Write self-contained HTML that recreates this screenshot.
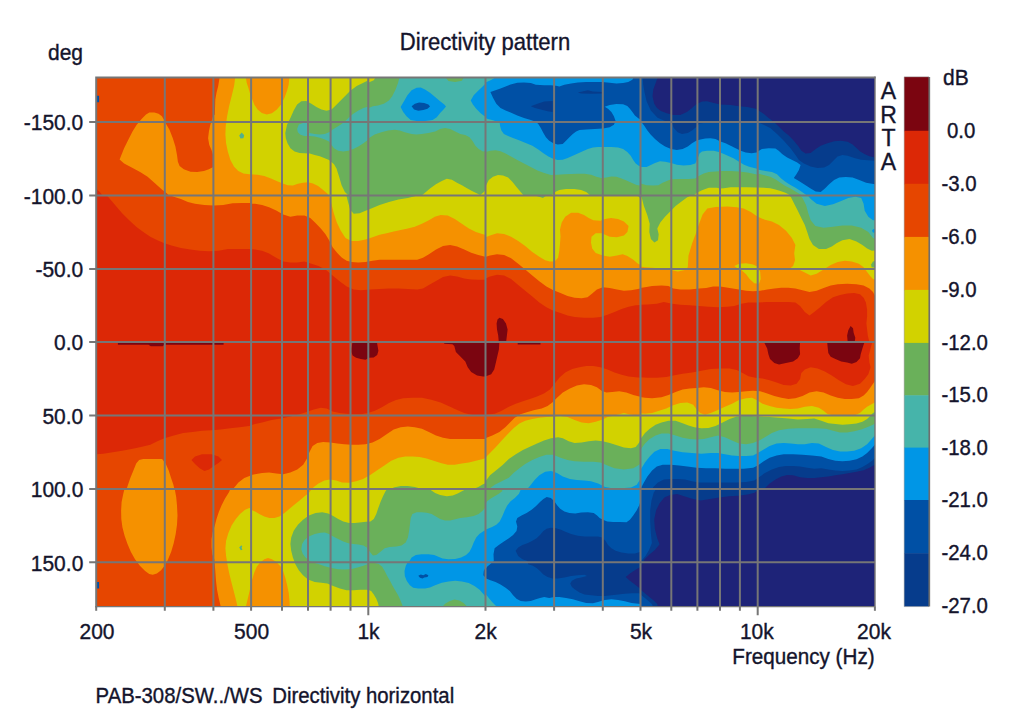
<!DOCTYPE html>
<html><head><meta charset="utf-8"><title>Directivity pattern</title>
<style>
html,body{margin:0;padding:0;background:#fff;}
body{width:1024px;height:715px;position:relative;overflow:hidden;font-family:"Liberation Sans",sans-serif;color:#1a1a28;}
.t{position:absolute;white-space:nowrap;line-height:1;letter-spacing:0;}
</style></head><body>
<svg width="1024" height="715" viewBox="0 0 1024 715" style="position:absolute;left:0;top:0">
<defs><clipPath id="c0"><rect x="95.6" y="77.1" width="155.8" height="118.6"/></clipPath><clipPath id="c1"><rect x="250.6" y="77.1" width="118.0" height="118.6"/></clipPath><clipPath id="c2"><rect x="367.8" y="77.1" width="118.1" height="118.6"/></clipPath><clipPath id="c3"><rect x="485.1" y="77.1" width="155.8" height="118.6"/></clipPath><clipPath id="c4"><rect x="640.1" y="77.1" width="118.0" height="118.6"/></clipPath><clipPath id="c5"><rect x="757.3" y="77.1" width="118.1" height="118.6"/></clipPath><clipPath id="c6"><rect x="95.6" y="194.9" width="155.8" height="147.5"/></clipPath><clipPath id="c7"><rect x="250.6" y="194.9" width="235.3" height="147.5"/></clipPath><clipPath id="c8"><rect x="485.1" y="194.9" width="155.8" height="147.5"/></clipPath><clipPath id="c9"><rect x="640.1" y="194.9" width="235.3" height="147.5"/></clipPath><clipPath id="c10"><rect x="95.6" y="341.6" width="155.8" height="147.5"/></clipPath><clipPath id="c11"><rect x="250.6" y="341.6" width="235.3" height="147.5"/></clipPath><clipPath id="c12"><rect x="485.1" y="341.6" width="155.8" height="147.5"/></clipPath><clipPath id="c13"><rect x="640.1" y="341.6" width="235.3" height="147.5"/></clipPath><clipPath id="c14"><rect x="95.6" y="488.3" width="155.8" height="118.6"/></clipPath><clipPath id="c15"><rect x="250.6" y="488.3" width="118.0" height="118.6"/></clipPath><clipPath id="c16"><rect x="367.8" y="488.3" width="118.1" height="118.6"/></clipPath><clipPath id="c17"><rect x="485.1" y="488.3" width="155.8" height="118.6"/></clipPath><clipPath id="c18"><rect x="640.1" y="488.3" width="118.0" height="118.6"/></clipPath><clipPath id="c19"><rect x="757.3" y="488.3" width="118.1" height="118.6"/></clipPath></defs>
<defs><clipPath id="pc"><rect x="96.2" y="77.4" width="778.6999999999999" height="529.2"/></clipPath></defs>
<g clip-path="url(#pc)">
<rect x="96.2" y="77.4" width="778.6999999999999" height="529.2" fill="#dc2806"/>
<g clip-path="url(#c0)">
<rect x="95.0" y="76.5" width="157.0" height="119.8" fill="#e64600"/>
<path d="M220.4,72.6 218.2,86.1 216.5,92.8 215.3,99.5 214.8,114.6 213.1,116.3 212.0,120.0 210.3,124.7 208.9,131.4 208.1,138.2 209.3,144.9 211.5,149.9 213.1,155.0 213.7,166.7 208.9,169.2 203.9,170.9 197.2,172.1 190.5,171.8 183.8,169.2 179.6,165.9 177.9,161.7 177.0,155.0 175.4,146.6 172.8,138.2 169.5,129.8 166.1,123.9 164.4,120.5 161.9,116.3 158.6,113.8 154.4,112.5 149.3,112.6 146.0,114.6 141.8,118.8 136.7,124.7 132.5,131.4 128.3,139.8 124.1,148.2 120.8,156.6 119.6,159.5 124.1,163.4 131.7,167.6 140.1,172.1 147.6,176.8 155.2,183.5 161.9,189.4 167.0,193.6 170.3,196.9 172.0,203.7 272.8,203.7 272.8,72.6Z" fill="#f59100"/>
<path d="M235.8,72.6 234.1,86.1 231.6,96.2 229.1,106.2 227.1,116.3 225.7,126.4 225.4,134.8 226.1,143.2 227.8,151.6 230.4,160.0 234.1,166.7 238.3,170.9 243.4,173.4 249.3,174.3 262.7,175.4 262.7,113.8 256.0,108.8 253.5,104.6 251.3,97.8 248.9,89.4 246.7,82.7 245.1,72.6Z" fill="#d2d200"/>
<path d="M241.7,132.4 244.2,135.3 243.4,138.2 240.5,138.5 239.2,135.6Z" fill="#52b08e"/>
<path d="M96.1,95.8 99.1,95.8 99.1,102.2 96.1,102.2Z" fill="#0050a5"/>
<path d="M94.7,187.2 99.8,191.9 103.5,196.9 94.7,196.9Z" fill="#dc2806"/>
</g>
<g clip-path="url(#c1)">
<rect x="250.0" y="76.5" width="119.2" height="119.8" fill="#d2d200"/>
<path d="M244.2,72.6 247.5,82.7 249.2,89.4 251.7,97.8 254.2,104.6 257.6,109.6 261.8,113.0 266.8,114.6 271.9,113.3 276.9,109.6 281.1,104.6 284.5,97.8 287.0,91.1 288.7,84.4 289.8,72.6Z" fill="#f59100"/>
<path d="M240.8,173.1 251.0,174.3 257.6,174.8 264.3,175.9 271.0,178.5 277.8,181.5 282.8,183.5 287.8,185.2 292.9,185.5 297.9,183.8 303.0,182.7 308.0,182.2 313.0,183.5 318.1,186.0 323.1,189.9 327.3,193.6 329.0,196.1 331.5,203.7 240.8,203.7Z" fill="#f59100"/>
<path d="M285.3,133.1 287.0,124.7 290.4,118.0 293.7,110.4 297.1,104.6 301.3,101.2 306.3,100.9 311.4,103.7 316.4,107.1 321.4,109.6 326.5,110.8 331.5,109.6 335.7,105.4 339.9,101.2 344.9,96.2 350.0,91.1 356.7,86.1 363.4,82.7 368.5,80.2 373.5,78.0 376.0,72.6 408.8,72.6 408.8,203.7 351.7,203.7 349.1,196.1 344.9,191.9 341.6,185.2 339.1,176.8 336.5,168.4 334.0,164.2 331.5,162.0 329.0,160.0 324.8,158.3 319.8,156.3 314.7,155.0 309.7,153.6 304.6,153.3 299.6,152.9 294.6,151.6 290.4,148.2 287.5,143.2 285.8,138.2Z" fill="#6ab05a"/>
<path d="M297.1,128.9 298.8,124.4 303.0,123.0 308.0,123.0 308.8,126.4 309.3,133.1 314.7,134.0 319.8,134.5 324.8,134.0 329.0,132.3 332.3,129.8 336.5,127.2 341.6,123.9 345.8,120.5 349.1,117.2 353.3,113.8 358.4,110.4 363.4,107.9 368.5,106.6 375.2,105.9 381.9,104.2 386.9,101.2 392.0,96.2 396.0,92.0 408.8,86.1 408.8,126.4 396.0,129.4 390.3,130.6 383.6,132.3 376.9,134.8 371.8,137.3 368.5,139.5 363.4,143.2 358.4,146.6 353.3,149.1 348.3,150.8 343.3,151.6 338.2,150.8 334.0,148.2 331.5,144.9 329.0,141.5 324.8,139.5 319.8,137.8 314.7,136.5 309.7,136.1 304.6,136.1 300.4,134.8 297.9,132.3Z" fill="#46b4aa"/>
<path d="M242.1,131.4 245.5,135.1 244.3,139.0 240.5,139.5 238.8,135.6Z" fill="#52b08e"/>
</g>
<g clip-path="url(#c2)">
<rect x="367.2" y="76.5" width="119.3" height="119.8" fill="#6ab05a"/>
<path d="M357.8,76.0 376.3,76.0 373.8,80.2 368.7,82.4 361.2,84.4 357.8,86.1Z" fill="#d2d200"/>
<path d="M400.6,72.6 398.1,82.7 395.6,89.4 392.2,96.2 388.9,100.4 383.8,103.7 378.0,105.4 372.9,106.2 368.7,107.9 364.5,110.4 357.8,114.6 351.1,118.8 332.6,124.7 332.6,155.0 341.0,151.6 351.1,147.4 357.8,144.0 364.5,140.7 368.7,138.2 374.6,134.5 381.3,132.3 388.0,130.6 394.8,129.8 399.8,130.6 404.8,132.3 411.6,134.0 416.6,134.5 421.6,134.0 428.4,133.1 435.1,131.4 440.1,128.9 445.1,128.1 450.2,128.9 455.2,131.4 460.3,134.0 465.3,135.1 469.5,137.3 472.9,141.5 475.4,145.7 478.7,149.1 482.9,151.6 487.1,150.8 492.2,149.9 497.2,150.8 502.3,152.4 507.3,155.0 513.0,158.3 525.8,160.0 525.8,72.6Z" fill="#46b4aa"/>
<path d="M444.3,76.0 464.5,76.0 461.9,80.7 455.2,82.0 448.5,81.0Z" fill="#6ab05a"/>
<path d="M400.6,107.1 404.0,101.2 407.4,95.3 411.6,90.3 416.6,87.8 420.8,87.4 425.0,89.4 430.0,92.8 435.1,97.0 440.1,101.2 444.3,104.6 446.0,106.6 443.5,109.6 440.1,113.0 436.8,117.2 432.6,120.0 425.0,121.0 416.6,121.0 410.7,120.0 406.5,116.3 403.2,112.1Z" fill="#0096e6"/>
<path d="M411.6,106.2 414.9,103.7 419.1,102.5 424.2,102.9 428.4,104.6 430.0,106.6 427.5,108.8 423.3,110.1 418.3,110.8 414.1,109.6Z" fill="#0050a5"/>
<path d="M492.2,72.6 489.7,80.2 485.5,83.6 482.1,86.9 477.9,91.1 473.7,95.3 470.7,100.4 472.9,104.6 476.2,108.8 480.4,113.0 484.6,116.3 488.8,118.3 493.9,120.0 498.9,121.4 499.7,123.9 500.6,128.9 503.1,134.0 507.3,137.3 513.0,139.8 525.8,141.5 525.8,72.6Z" fill="#0096e6"/>
<path d="M420.0,198.6 421.6,195.6 425.0,192.7 430.0,188.5 435.9,184.3 441.8,181.0 446.8,178.8 451.9,179.8 456.9,182.7 461.9,185.2 467.0,188.2 472.0,191.1 477.1,193.6 480.1,194.9 482.1,193.6 483.8,191.9 485.5,189.4 487.1,198.6Z" fill="#d2d200"/>
</g>
<g clip-path="url(#c3)">
<rect x="484.5" y="76.5" width="157.0" height="119.8" fill="#0096e6"/>
<path d="M483.7,72.6 495.5,72.6 493.8,78.5 489.6,80.7 485.4,82.4 483.7,83.6Z" fill="#46b4aa"/>
<path d="M473.6,109.6 477.0,110.4 482.0,115.5 487.1,118.8 493.8,120.5 499.7,123.0 500.2,126.4 501.4,130.6 503.9,134.0 508.1,136.1 512.3,137.8 519.0,140.2 525.7,142.9 532.4,145.7 538.3,149.6 543.4,153.3 548.4,156.6 552.6,158.6 557.6,160.0 562.7,159.7 567.7,158.0 572.8,155.8 577.8,153.6 582.8,151.3 587.9,149.1 592.9,147.4 597.9,146.9 604.7,146.9 611.4,146.9 618.1,147.4 623.1,149.1 627.3,151.9 630.7,155.8 633.2,160.0 635.7,163.4 639.1,165.9 645.0,166.7 651.7,167.0 651.7,203.7 473.6,203.7Z" fill="#46b4aa"/>
<path d="M473.6,148.2 477.0,149.1 482.0,150.8 485.4,151.9 490.4,150.8 495.5,150.2 500.5,151.3 505.6,153.6 510.6,156.3 517.3,160.0 524.0,163.4 530.8,167.0 537.5,170.4 544.2,173.1 550.9,175.1 557.6,174.8 564.4,174.3 571.1,173.9 577.8,173.8 584.5,173.8 591.2,174.8 596.3,176.8 601.3,178.1 606.3,177.6 611.4,176.5 616.4,176.8 621.5,178.5 626.5,180.5 631.5,182.7 636.6,184.9 642.5,186.0 651.7,187.7 651.7,203.7 473.6,203.7Z" fill="#6ab05a"/>
<path d="M480.4,196.9 483.7,191.9 486.2,185.2 488.8,180.1 493.0,176.8 498.0,175.1 503.0,175.4 508.1,177.6 512.3,181.8 516.5,186.9 520.7,191.9 524.9,196.9Z" fill="#d2d200"/>
<path d="M550.1,196.9 555.1,191.9 559.3,189.9 566.0,189.1 574.4,189.1 581.1,189.9 586.2,191.9 592.1,196.9Z" fill="#d2d200"/>
<path d="M490.4,92.0 495.5,90.3 500.5,88.6 505.6,86.4 510.6,84.4 517.3,82.7 524.0,82.4 530.8,83.1 535.8,84.7 544.2,85.2 550.9,85.2 556.0,85.7 559.3,86.4 564.4,84.7 571.1,83.6 577.8,82.4 586.2,82.0 594.6,82.0 602.1,82.0 609.7,82.7 616.4,83.6 623.1,83.1 628.2,81.9 632.4,79.7 635.7,72.6 651.7,72.6 651.7,133.1 649.0,129.8 645.0,124.7 641.0,120.0 638.3,118.3 634.9,115.5 632.4,112.1 629.9,108.8 627.3,105.9 623.1,104.2 616.4,104.1 609.7,104.9 604.7,106.7 608.0,108.8 611.4,112.1 613.9,116.3 615.6,121.0 613.9,124.7 609.7,127.2 603.0,128.4 594.6,128.9 586.2,129.4 579.5,130.1 576.1,131.4 572.8,134.0 569.4,137.3 566.0,140.7 562.7,144.0 557.6,144.5 553.4,143.2 549.2,140.7 545.9,137.3 543.4,133.1 540.8,128.1 538.3,123.9 535.8,121.7 530.8,120.0 524.0,118.0 517.3,115.5 510.6,112.6 505.6,110.4 500.5,107.9 496.3,103.7 493.0,97.8Z" fill="#0050a5"/>
<path d="M530.8,106.2 537.5,103.7 544.2,101.5 552.6,100.9 552.6,112.1 547.6,111.3 540.8,109.6 535.0,107.9Z" fill="#063c8c"/>
<path d="M577.8,92.5 584.5,91.1 587.9,90.3 592.9,91.5 602.1,92.0 602.1,93.6 591.2,93.8 581.1,93.6Z" fill="#063c8c"/>
</g>
<g clip-path="url(#c4)">
<rect x="639.5" y="76.5" width="119.2" height="119.8" fill="#0050a5"/>
<path d="M642.4,72.6 643.2,84.4 644.6,92.8 646.6,101.2 650.8,110.4 657.5,117.7 665.1,121.0 671.8,123.0 673.8,128.1 677.7,132.3 681.9,134.0 687.8,133.1 692.8,130.1 696.2,126.9 699.5,123.4 707.1,122.5 730.6,122.0 757.5,122.4 762.5,123.4 772.6,130.8 782.7,139.7 787.7,143.2 787.7,72.6Z" fill="#063c8c"/>
<path d="M659.2,72.6 655.8,82.7 653.3,89.4 652.5,96.2 654.2,103.7 657.0,107.9 660.9,110.9 666.8,113.3 673.5,115.0 680.2,115.0 686.9,112.1 692.0,107.9 696.2,104.2 702.0,101.5 707.1,101.2 713.8,102.9 720.5,104.6 730.6,104.9 739.0,106.2 747.4,107.1 755.8,108.8 762.5,112.1 769.2,117.2 775.9,122.2 781.0,126.4 787.7,133.1 787.7,72.6Z" fill="#1e2378"/>
<path d="M609.6,103.7 613.0,103.7 619.7,103.7 628.1,104.6 631.5,107.9 634.0,112.1 636.5,116.3 639.9,120.0 644.1,125.6 647.4,130.6 650.8,134.8 655.0,139.0 660.0,143.2 665.1,146.6 671.0,149.1 676.8,149.9 682.7,149.1 687.8,146.6 692.0,143.2 696.2,140.7 700.4,139.5 705.4,138.5 710.4,138.2 715.5,139.0 720.5,141.5 725.5,143.2 730.6,145.7 735.6,148.2 740.7,150.8 745.7,152.4 751.6,153.3 756.6,152.4 760.8,149.9 765.9,148.6 770.9,148.2 775.9,148.6 781.0,150.8 787.7,155.0 787.7,203.7 609.6,203.7Z" fill="#0096e6"/>
<path d="M609.6,147.4 613.0,147.4 618.0,147.9 623.1,149.9 627.3,153.3 630.6,158.3 633.2,163.4 636.5,165.9 640.7,167.0 646.6,167.0 650.8,165.0 655.0,163.0 660.0,161.3 665.1,161.7 671.0,163.0 676.8,164.7 683.6,165.4 690.3,165.0 695.3,163.4 697.8,158.3 699.5,153.6 702.0,151.6 707.1,150.8 713.8,150.8 718.8,151.9 723.9,154.1 728.9,156.3 733.9,158.6 739.0,161.7 744.0,164.7 749.1,166.7 754.1,168.1 759.1,169.2 764.2,170.4 769.2,171.4 774.3,173.1 778.5,175.9 781.8,180.1 787.7,183.5 787.7,203.7 609.6,203.7Z" fill="#46b4aa"/>
<path d="M609.6,175.9 613.0,175.9 619.7,176.8 624.8,179.3 629.8,181.0 636.5,181.8 640.7,183.5 646.6,185.2 653.3,185.5 658.4,185.2 662.6,182.7 666.8,181.0 671.0,179.3 680.2,179.0 688.6,179.0 695.3,178.5 698.7,175.9 703.7,173.4 708.8,172.1 715.5,171.4 722.2,170.9 730.6,170.9 739.0,171.4 747.4,172.6 755.8,174.3 764.2,176.5 770.9,178.8 776.8,181.8 781.0,185.2 787.7,187.7 787.7,203.7 609.6,203.7Z" fill="#6ab05a"/>
<path d="M692.0,196.9 697.0,192.7 702.0,190.2 708.8,187.7 717.1,187.7 719.7,188.5 723.9,188.2 730.6,187.2 739.0,187.2 747.4,187.2 755.8,187.4 764.2,187.7 770.9,188.5 776.8,190.2 781.0,191.9 787.7,193.6 787.7,203.7 692.0,203.7Z" fill="#d2d200"/>
</g>
<g clip-path="url(#c5)">
<rect x="756.7" y="76.5" width="119.3" height="119.8" fill="#1e2378"/>
<path d="M726.6,103.7 730.0,103.7 735.0,105.9 740.1,107.6 746.8,107.6 753.5,108.3 758.6,110.4 763.6,113.8 768.6,118.0 773.7,121.7 778.7,126.4 783.8,131.4 788.8,135.6 793.8,140.7 798.0,145.7 801.4,150.8 805.6,153.6 810.6,152.9 815.7,149.1 820.7,145.7 827.4,143.2 834.1,141.2 840.9,140.7 847.6,141.8 852.6,144.5 856.8,148.2 860.2,151.6 864.4,154.1 869.4,156.3 875.0,157.5 904.7,160.0 904.7,203.7 726.6,203.7Z" fill="#063c8c"/>
<path d="M726.6,120.5 730.0,120.5 740.1,121.4 757.7,122.2 763.6,124.7 770.3,128.1 777.0,134.0 783.8,140.7 790.5,148.2 795.5,155.0 798.9,160.0 803.9,163.4 810.6,166.4 817.4,168.1 824.1,167.6 829.1,165.0 833.3,160.8 837.5,156.6 842.5,155.0 847.6,155.8 854.3,158.0 861.0,159.7 867.7,160.3 875.0,160.8 904.7,161.7 904.7,203.7 726.6,203.7Z" fill="#0050a5"/>
<path d="M726.6,143.2 730.0,143.2 735.0,146.6 740.1,150.8 746.8,152.9 753.5,152.9 757.7,151.6 761.9,149.1 768.6,148.2 775.4,148.6 778.7,150.8 782.1,154.1 787.1,157.5 792.2,160.0 797.2,162.5 800.6,165.0 798.9,170.1 796.4,174.3 793.8,178.1 798.9,181.0 805.6,185.2 810.6,188.5 815.7,191.6 820.7,191.9 824.9,188.5 829.1,184.3 834.1,180.1 839.2,177.6 845.9,177.1 852.6,177.6 859.3,180.1 866.1,182.7 875.0,184.3 904.7,185.2 904.7,203.7 726.6,203.7Z" fill="#0096e6"/>
<path d="M726.6,156.6 730.0,156.6 735.0,159.2 740.1,163.4 746.8,166.7 753.5,168.7 758.6,169.7 765.3,170.9 772.0,172.1 777.0,174.3 781.2,178.5 785.4,181.8 790.5,184.9 795.5,187.7 800.6,191.1 805.6,194.4 809.0,196.9 809.0,203.7 726.6,203.7Z" fill="#46b4aa"/>
<path d="M726.6,170.1 730.0,170.1 740.1,170.6 750.2,171.8 757.7,173.4 763.6,175.1 770.3,176.8 775.4,179.3 780.4,182.7 785.4,186.0 790.5,188.5 795.5,191.6 800.6,194.4 803.9,196.9 803.9,203.7 726.6,203.7Z" fill="#6ab05a"/>
<path d="M726.6,186.9 730.0,186.9 740.1,187.2 750.2,187.4 757.7,187.4 763.6,187.7 770.3,188.2 775.4,189.4 780.4,191.1 785.4,192.7 788.8,194.4 791.3,196.9 791.3,203.7 726.6,203.7Z" fill="#d2d200"/>
</g>
<g clip-path="url(#c6)">
<rect x="95.0" y="194.3" width="157.0" height="148.7" fill="#dc2806"/>
<path d="M91.6,180.3 96.3,186.2 101.0,190.9 108.0,196.7 115.1,205.0 122.1,213.2 129.2,220.2 136.2,226.8 143.3,232.0 150.3,236.7 157.4,240.2 164.4,243.3 171.5,245.6 180.9,248.0 190.3,249.6 199.7,250.8 209.1,251.3 218.5,250.8 227.9,248.9 237.3,248.9 249.0,249.1 258.4,250.3 265.5,252.0 272.5,255.0 279.6,258.3 286.6,261.4 294.6,263.7 298.4,264.9 298.4,180.3Z" fill="#e64600"/>
<path d="M155.0,180.3 160.9,187.3 164.4,190.9 168.0,194.4 173.8,196.7 180.9,199.1 187.9,201.9 195.0,203.8 204.4,205.0 213.8,205.4 223.2,205.0 232.6,203.3 242.0,202.9 251.4,202.9 260.8,204.3 267.8,206.1 274.9,209.0 281.9,212.7 289.0,215.5 294.6,217.9 298.4,219.1 298.4,180.3Z" fill="#f59100"/>
</g>
<g clip-path="url(#c7)">
<rect x="250.0" y="194.3" width="236.5" height="148.7" fill="#dc2806"/>
<path d="M243.3,248.9 248.0,248.9 255.0,249.6 262.1,250.8 269.1,253.6 276.2,257.8 283.2,261.4 290.3,262.5 297.3,262.5 304.4,261.4 311.4,263.7 318.5,266.1 325.5,269.6 332.6,275.5 339.6,281.3 346.7,286.5 353.7,289.6 360.8,290.3 370.2,289.6 379.6,288.9 389.0,288.4 398.4,288.4 407.8,288.9 417.2,289.6 423.0,288.4 428.9,284.9 436.0,280.9 443.0,277.1 450.1,275.5 457.1,276.6 464.2,278.5 471.2,279.5 478.3,279.7 492.4,279.7 492.4,180.3 243.3,180.3Z" fill="#e64600"/>
<path d="M243.3,203.8 248.0,203.8 255.0,203.8 262.1,205.0 269.1,207.3 276.2,210.4 283.2,214.4 290.3,216.7 297.3,215.5 304.4,215.5 310.3,217.9 315.0,222.6 320.8,228.5 325.5,234.3 329.1,240.2 332.6,247.3 337.3,253.1 342.0,257.8 346.7,260.7 351.4,262.1 358.4,262.5 365.5,262.1 372.5,260.7 379.6,259.7 389.0,259.7 398.4,259.7 407.8,259.7 417.2,259.7 423.0,257.8 428.9,254.3 436.0,249.6 443.0,246.1 450.1,244.9 457.1,246.6 464.2,249.6 471.2,252.7 478.3,255.0 485.3,256.7 492.4,257.8 492.4,180.3 243.3,180.3Z" fill="#f59100"/>
<path d="M323.2,180.3 326.7,192.0 329.1,195.6 331.4,203.8 333.8,213.2 336.8,222.6 340.8,230.8 345.5,237.9 351.4,240.9 358.4,240.9 365.5,239.5 372.5,237.2 379.6,234.8 386.6,233.2 393.7,231.5 400.7,230.1 407.8,228.5 414.8,226.8 421.9,223.8 428.9,220.2 434.8,216.7 440.7,215.1 447.7,215.5 454.8,219.1 461.8,223.8 468.9,228.5 475.9,232.0 483.0,234.3 492.4,236.2 492.4,180.3Z" fill="#d2d200"/>
<path d="M342.0,180.3 345.5,192.0 347.9,201.4 350.2,209.7 353.7,213.7 359.6,213.2 365.5,210.8 372.5,208.0 379.6,205.0 389.0,201.9 398.4,199.6 407.8,197.9 414.8,196.3 421.9,193.9 428.9,190.9 436.0,187.3 443.0,180.3Z" fill="#6ab05a"/>
<path d="M461.8,180.3 468.9,187.3 475.9,190.9 483.0,193.2 485.8,189.7 492.4,180.3Z" fill="#6ab05a"/>
</g>
<g clip-path="url(#c8)">
<rect x="484.5" y="194.3" width="157.0" height="148.7" fill="#dc2806"/>
<path d="M438.3,278.5 443.0,278.5 450.0,277.1 457.1,277.8 466.5,279.0 475.9,279.5 484.1,279.0 490.0,276.6 497.0,274.8 504.1,275.5 511.1,279.0 518.2,284.9 525.2,290.7 532.3,296.6 539.3,302.5 546.4,307.2 553.4,310.7 560.5,313.1 567.5,315.4 574.6,317.0 584.0,317.8 593.4,317.8 600.4,317.0 607.5,314.7 614.5,311.9 621.6,309.1 628.6,306.7 635.7,305.3 642.7,304.8 649.8,304.4 656.8,303.7 663.9,302.5 670.9,302.5 678.0,303.7 687.4,305.3 687.4,180.3 438.3,180.3Z" fill="#e64600"/>
<path d="M438.3,246.6 443.0,246.6 450.0,244.9 457.1,247.3 464.1,250.8 471.2,254.3 478.2,256.7 484.1,257.4 490.0,255.5 497.0,254.3 504.1,255.0 511.1,258.3 518.2,263.7 525.2,269.6 532.3,275.5 539.3,281.3 546.4,286.5 553.4,290.3 560.5,293.1 567.5,295.9 574.6,297.8 581.6,298.3 587.5,297.3 592.2,293.6 596.9,289.6 602.8,287.2 609.8,287.9 616.9,289.6 623.9,290.7 631.0,290.3 638.0,288.9 645.1,287.2 652.1,285.6 659.2,285.6 666.2,286.0 672.1,287.9 678.0,289.6 687.4,291.2 687.4,180.3 438.3,180.3Z" fill="#f59100"/>
<path d="M438.3,215.1 443.0,215.1 447.7,216.0 452.4,219.1 457.1,222.6 464.1,227.3 471.2,232.0 478.2,235.5 484.1,237.9 490.0,235.5 497.0,233.2 504.1,233.9 511.1,236.7 518.2,240.9 525.2,246.1 532.3,252.0 539.3,256.7 545.2,260.2 549.9,261.4 554.6,261.4 558.1,257.8 559.3,250.8 560.0,243.7 560.5,236.7 560.0,229.6 561.7,222.6 565.2,216.7 571.1,212.7 578.1,212.7 584.0,215.1 588.7,217.9 593.4,220.2 600.4,220.7 605.1,219.1 611.0,217.9 618.0,219.1 623.9,221.4 628.6,226.1 627.4,232.0 623.9,235.5 616.9,237.2 609.8,236.7 605.1,234.8 601.6,233.2 595.7,233.2 591.5,236.7 591.0,242.6 592.2,248.4 595.7,253.1 602.8,255.5 609.8,256.7 616.9,255.5 622.7,254.3 627.4,256.0 633.3,259.7 638.0,263.7 643.9,266.8 652.1,268.4 661.5,269.6 670.9,270.8 678.0,273.1 687.4,276.6 687.4,180.3 438.3,180.3Z" fill="#d2d200"/>
<path d="M511.1,180.3 518.2,188.5 524.1,193.2 532.3,194.9 539.3,196.7 542.9,197.9 546.4,195.6 553.4,193.9 554.6,190.9 555.3,189.2 565.2,189.2 574.6,189.7 584.0,192.0 589.9,193.9 598.1,194.4 607.5,194.4 616.9,194.4 626.3,194.4 634.5,194.9 639.2,196.7 642.7,203.8 645.5,210.8 647.9,217.9 650.2,223.8 650.9,232.0 652.1,237.9 655.6,242.6 658.7,240.2 659.2,234.3 658.0,227.3 660.3,222.6 665.0,217.9 669.7,212.0 674.4,206.1 679.1,201.4 687.4,196.7 687.4,180.3Z" fill="#6ab05a"/>
<path d="M499.4,317.8 502.9,318.9 506.0,323.6 507.6,329.5 506.9,335.4 506.0,342.9 498.9,342.9 498.2,335.4 497.0,329.5 496.6,323.6 497.5,319.4Z" fill="#7b0510"/>
</g>
<g clip-path="url(#c9)">
<rect x="639.5" y="194.3" width="236.5" height="148.7" fill="#dc2806"/>
<path d="M633.3,304.8 638.0,304.8 647.4,304.4 656.8,303.7 663.8,302.0 672.1,303.7 680.3,304.8 689.7,305.3 699.1,306.0 708.5,306.7 717.9,307.2 727.3,306.7 734.3,306.0 741.4,303.7 748.4,302.5 757.8,302.5 767.2,302.0 779.0,302.0 788.4,302.0 795.4,302.5 800.1,306.0 804.8,311.9 809.5,315.4 814.2,311.9 820.1,307.2 826.0,302.0 833.0,297.3 840.1,295.0 847.1,293.6 854.2,293.1 860.0,294.3 863.6,297.8 865.9,302.5 867.1,309.5 867.1,316.6 866.4,323.6 867.8,335.4 870.6,347.1 882.4,347.1 882.4,180.3 633.3,180.3Z" fill="#e64600"/>
<path d="M633.3,288.4 638.0,288.4 645.0,287.2 652.1,286.0 661.5,285.6 668.5,286.0 673.2,288.4 680.3,289.6 689.7,289.6 699.1,288.4 706.1,287.9 713.2,286.5 720.2,286.5 729.6,287.9 739.0,289.6 746.1,290.7 753.1,291.2 760.2,290.7 767.2,289.6 774.3,288.4 781.3,287.7 788.4,287.7 795.4,288.4 802.5,290.3 809.5,291.9 816.6,290.7 823.6,287.9 830.7,285.6 837.7,284.2 847.1,283.7 856.5,284.2 863.6,285.6 869.4,288.4 873.0,291.9 874.8,295.4 882.4,295.4 882.4,180.3 633.3,180.3Z" fill="#f59100"/>
<path d="M633.3,266.1 638.0,266.1 645.0,267.2 652.1,267.7 661.5,268.4 670.9,270.1 677.9,271.5 685.0,270.1 687.8,267.2 688.5,255.5 692.0,243.7 695.6,234.3 699.1,223.8 702.6,214.4 707.3,208.5 715.5,206.9 727.3,206.6 736.7,207.3 743.7,208.5 750.8,212.0 757.8,216.7 764.9,219.8 771.9,221.4 779.0,224.9 786.0,230.8 791.9,237.9 795.4,244.9 794.2,253.1 795.0,260.2 793.1,266.1 790.7,267.7 797.8,269.1 804.8,272.4 810.7,275.5 816.6,273.8 823.6,269.6 830.7,264.9 837.7,262.1 844.8,260.7 851.8,261.4 858.9,263.7 863.6,267.2 867.1,271.9 870.6,276.6 873.0,279.0 882.4,281.3 882.4,180.3 633.3,180.3Z" fill="#d2d200"/>
<path d="M734.3,266.1 739.0,263.7 746.1,263.2 753.1,264.4 757.8,266.8 760.2,271.9 760.7,279.0 759.0,283.7 754.3,283.2 749.6,279.0 746.1,274.3 741.4,270.1 736.7,267.7Z" fill="#d2d200"/>
<path d="M633.3,194.4 641.5,196.7 643.9,206.1 647.4,215.5 649.7,223.8 649.3,232.0 650.9,239.0 654.4,242.6 658.0,240.2 658.7,234.3 657.3,228.5 660.3,222.6 665.0,216.7 669.7,212.0 675.6,206.1 681.5,201.4 687.3,197.2 693.2,194.4 696.7,191.6 708.5,189.7 720.2,188.5 732.0,187.8 741.4,187.8 750.8,188.5 760.2,189.7 769.6,190.9 779.0,192.5 786.0,193.9 790.7,196.7 794.2,203.8 797.8,210.8 801.3,217.9 804.8,224.9 807.2,232.0 809.5,239.0 813.0,244.9 818.9,248.9 826.0,248.9 831.8,246.6 836.5,243.3 842.4,240.2 849.5,239.0 856.5,241.4 862.4,244.9 867.1,248.4 871.8,250.8 882.4,249.6 882.4,180.3 633.3,180.3Z" fill="#6ab05a"/>
<path d="M788.4,180.3 790.7,189.7 797.8,193.2 802.5,197.9 806.0,205.0 808.3,213.2 810.7,220.2 815.4,226.1 823.6,227.8 833.0,226.8 842.4,225.4 851.8,225.4 861.2,227.8 868.3,232.0 873.0,237.9 882.4,241.4 882.4,180.3Z" fill="#46b4aa"/>
<path d="M797.8,180.3 800.1,187.3 806.0,193.2 810.7,199.1 816.6,203.8 824.8,206.1 833.0,204.3 841.2,201.0 848.3,197.9 855.3,196.7 861.2,197.9 863.6,203.8 864.7,210.8 868.3,216.7 873.0,220.2 882.4,220.2 882.4,180.3Z" fill="#0096e6"/>
<path d="M803.6,180.3 811.9,188.5 818.9,191.6 824.8,188.5 830.7,180.3Z" fill="#0050a5"/>
<path d="M850.6,326.0 853.0,328.3 853.7,333.0 855.3,337.7 854.6,342.9 847.8,342.9 847.1,335.4 848.3,330.2Z" fill="#7b0510"/>
<path d="M875.8,260.7 873.0,261.6 871.1,264.4 871.6,267.2 875.8,267.7Z" fill="#6ab05a"/>
<path d="M875.8,228.7 873.0,229.2 872.0,230.8 873.0,232.5 875.8,232.7Z" fill="#0096e6"/>
</g>
<g clip-path="url(#c10)">
<rect x="95.0" y="341.0" width="157.0" height="148.7" fill="#dc2806"/>
<path d="M91.6,454.2 96.3,454.2 103.3,453.7 112.7,452.3 122.1,450.7 131.5,449.0 140.9,447.1 150.3,444.8 157.4,441.3 164.4,438.2 173.8,435.4 183.2,433.0 192.6,431.9 202.0,430.7 211.4,430.2 220.8,429.5 230.2,428.3 239.6,427.2 249.0,426.0 258.4,424.1 267.8,422.5 277.2,421.3 286.6,419.4 298.4,417.8 298.4,510.6 91.6,510.6Z" fill="#e64600"/>
<path d="M123.3,500.0 125.7,491.8 128.0,484.7 130.4,477.7 133.4,470.6 136.2,463.6 139.1,460.1 143.3,458.9 152.7,458.9 162.1,458.9 165.6,463.6 168.7,470.6 171.0,477.7 173.4,484.7 175.0,491.8 176.2,500.0 176.2,510.6 123.3,510.6Z" fill="#f59100"/>
<path d="M226.7,500.0 230.2,494.1 233.7,488.2 238.4,482.4 244.3,478.1 251.4,475.3 258.4,473.7 265.5,472.5 272.5,472.5 279.6,473.4 289.0,474.2 298.4,472.5 298.4,510.6 225.5,510.6Z" fill="#f59100"/>
<path d="M191.5,460.1 195.0,456.5 202.0,454.2 211.4,454.2 218.5,456.5 222.0,460.1 218.5,463.1 213.8,465.9 209.1,469.5 204.4,471.1 199.7,468.3 195.0,464.0Z" fill="#dc2806"/>
<path d="M117.9,341.4 223.6,341.4 223.6,344.7 164.4,344.7 162.6,346.3 150.8,346.3 148.5,344.7 117.9,344.7Z" fill="#7b0510"/>
</g>
<g clip-path="url(#c11)">
<rect x="250.0" y="341.0" width="236.5" height="148.7" fill="#dc2806"/>
<path d="M243.3,426.0 248.0,426.0 255.0,424.1 262.1,422.5 271.5,420.1 280.9,418.5 290.3,416.6 299.7,414.2 306.7,411.9 313.8,409.5 320.8,407.7 326.7,408.4 332.6,411.4 339.6,413.1 346.7,413.8 353.7,414.2 360.8,414.2 367.8,413.1 374.9,410.7 381.9,407.2 389.0,403.0 396.0,400.1 403.1,398.3 412.5,397.8 421.9,397.8 431.3,399.7 440.7,402.5 450.1,406.7 457.1,410.0 464.2,413.1 471.2,414.7 478.3,415.4 492.4,416.1 492.4,510.6 243.3,510.6Z" fill="#e64600"/>
<path d="M243.3,475.8 248.0,475.8 255.0,474.2 262.1,473.0 269.1,472.5 276.2,473.4 283.2,474.2 290.3,472.5 297.3,469.5 303.2,464.8 306.7,458.9 309.6,451.8 312.6,446.0 317.3,442.9 323.2,442.0 330.2,442.4 337.3,443.6 344.3,444.3 351.4,444.8 358.4,444.8 365.5,444.3 372.5,442.4 379.6,438.9 386.6,434.2 393.7,429.5 400.7,427.2 407.8,426.5 414.8,427.2 421.9,428.8 428.9,431.9 436.0,435.4 443.0,437.7 450.1,438.9 459.5,438.9 468.9,438.9 478.3,438.9 492.4,438.9 492.4,510.6 243.3,510.6Z" fill="#f59100"/>
<path d="M300.9,510.6 302.0,500.0 305.6,496.5 309.1,491.8 313.8,487.1 318.5,483.6 324.4,480.5 330.2,479.6 336.1,480.5 342.0,482.4 349.0,482.8 356.1,481.2 363.1,478.9 370.2,474.9 377.2,470.2 384.3,465.5 391.3,460.8 398.4,457.7 405.4,456.5 412.5,456.5 419.5,457.0 426.6,458.4 433.6,460.8 440.7,463.1 447.7,464.8 454.8,464.8 461.8,463.6 468.9,462.4 475.9,460.8 483.0,458.9 492.4,455.4 492.4,510.6Z" fill="#d2d200"/>
<path d="M381.9,510.6 383.1,500.0 385.5,494.1 389.0,490.6 393.7,487.5 400.7,485.9 407.8,485.9 414.8,487.1 421.9,489.0 428.9,491.3 436.0,493.7 443.0,496.0 450.1,496.5 457.1,494.1 464.2,491.8 471.2,489.9 478.3,487.1 483.0,484.3 492.4,480.0 492.4,510.6Z" fill="#6ab05a"/>
<path d="M351.4,348.4 352.6,341.4 376.8,341.4 378.4,350.8 377.2,355.0 373.7,357.4 369.0,357.8 365.5,359.7 360.8,359.0 356.1,357.8 352.6,355.5 351.4,352.0Z" fill="#7b0510"/>
<path d="M444.2,341.4 492.4,341.4 492.4,376.6 483.0,376.6 477.1,375.5 471.2,371.9 467.7,367.2 465.3,361.4 460.6,356.7 455.9,352.0 454.3,346.1 452.4,344.2 444.2,343.7Z" fill="#7b0510"/>
</g>
<g clip-path="url(#c12)">
<rect x="484.5" y="341.0" width="157.0" height="148.7" fill="#dc2806"/>
<path d="M438.3,404.8 443.0,404.8 450.0,408.4 457.1,411.9 466.5,414.2 475.9,414.7 485.3,414.7 494.7,413.8 501.7,410.7 508.8,406.7 515.8,403.7 522.9,401.3 529.9,399.0 537.0,396.6 544.0,393.6 549.9,389.6 554.6,383.7 559.3,377.8 565.2,372.4 572.2,369.1 579.3,367.2 586.3,366.1 593.4,366.1 600.4,367.2 607.5,369.6 614.5,372.4 621.6,374.8 628.6,376.6 635.7,377.3 642.7,377.8 649.8,378.3 659.2,378.3 666.2,377.8 672.1,376.2 678.0,374.8 687.4,373.8 687.4,510.6 438.3,510.6Z" fill="#e64600"/>
<path d="M438.3,438.9 443.0,438.9 452.4,439.6 461.8,439.6 471.2,439.6 480.6,438.9 485.3,438.2 492.3,435.4 499.4,431.9 505.3,427.2 510.0,422.5 514.7,417.8 520.5,414.2 527.6,411.9 534.6,410.0 541.7,408.4 547.6,406.0 552.3,402.5 557.0,397.8 562.8,392.6 569.9,388.4 576.9,385.6 584.0,384.2 591.0,384.9 596.9,387.2 601.6,390.7 606.3,392.6 612.2,391.9 619.2,391.2 626.3,392.6 633.3,395.0 639.2,396.6 645.1,397.3 652.1,397.3 659.2,396.6 666.2,395.4 672.1,393.6 678.0,391.9 687.4,390.3 687.4,510.6 438.3,510.6Z" fill="#f59100"/>
<path d="M438.3,464.0 443.0,464.0 452.4,464.8 461.8,464.0 471.2,462.4 480.6,460.1 485.3,457.7 490.0,453.0 495.9,447.1 501.7,440.6 507.6,434.2 513.5,428.3 519.4,423.6 525.2,420.8 532.3,418.9 539.3,417.8 546.4,417.1 553.4,416.6 560.5,416.1 567.5,417.1 574.6,420.1 581.6,422.5 588.7,423.2 595.7,421.8 602.8,419.4 607.5,417.1 612.2,416.1 619.2,414.2 623.9,413.1 631.0,414.7 638.0,415.4 645.1,414.7 652.1,413.1 659.2,410.7 666.2,407.7 673.3,404.8 678.0,402.5 687.4,399.0 687.4,510.6 438.3,510.6Z" fill="#d2d200"/>
<path d="M438.3,494.1 443.0,494.1 450.0,491.8 457.1,489.9 466.5,488.2 475.9,487.1 482.9,484.7 486.5,480.0 490.0,475.3 495.9,470.6 502.9,464.8 508.8,458.9 515.8,454.2 522.9,450.0 529.9,446.7 537.0,443.6 544.0,440.6 551.1,438.2 558.1,437.3 562.8,438.2 568.7,441.3 574.6,442.9 581.6,442.4 588.7,441.3 595.7,440.6 602.8,441.3 609.8,442.9 616.9,445.3 623.9,447.6 631.0,448.3 635.7,447.1 639.2,442.4 642.2,436.6 645.5,431.9 649.8,427.2 655.6,423.6 661.5,420.8 668.6,418.5 675.6,417.1 687.4,418.5 687.4,510.6 438.3,510.6Z" fill="#6ab05a"/>
<path d="M464.1,510.6 466.5,500.0 473.5,496.5 480.6,494.1 486.5,491.8 490.0,488.2 494.7,484.7 501.7,481.2 508.8,477.7 513.5,473.0 519.4,468.3 525.2,464.0 532.3,460.1 539.3,457.0 546.4,454.7 553.4,454.7 560.5,457.7 567.5,460.1 574.6,461.2 584.0,461.7 593.4,461.7 600.4,462.4 607.5,465.5 614.5,468.3 623.9,469.5 633.3,468.3 639.2,464.8 642.7,458.9 645.1,451.8 648.6,446.0 653.3,440.1 659.2,435.9 666.2,433.5 673.3,433.5 680.3,436.6 687.4,438.9 687.4,510.6Z" fill="#46b4aa"/>
<path d="M513.5,510.6 515.8,500.0 520.5,495.3 525.2,491.3 529.9,485.9 534.6,480.0 539.3,475.3 545.2,471.8 551.1,471.1 557.0,473.0 562.8,476.5 569.9,478.9 576.9,480.0 584.0,480.5 591.0,481.2 598.1,483.6 605.1,487.1 612.2,488.2 621.6,488.2 631.0,487.5 636.8,484.7 640.4,478.9 643.9,471.8 647.4,464.8 652.1,457.7 658.0,452.3 665.0,450.0 673.3,450.0 680.3,451.4 687.4,452.3 687.4,510.6Z" fill="#0096e6"/>
<path d="M641.5,510.6 642.7,500.0 645.1,494.1 647.4,487.1 650.9,480.0 654.5,473.0 659.2,467.8 665.0,464.8 672.1,463.6 680.3,464.0 687.4,464.8 687.4,510.6Z" fill="#0050a5"/>
<path d="M540.5,501.2 544.0,497.6 548.7,496.5 553.4,498.4 554.6,501.2Z" fill="#0050a5"/>
<path d="M453.6,341.4 499.4,341.4 498.9,349.6 497.5,355.5 495.9,362.5 494.2,369.6 491.2,374.3 485.3,376.6 478.2,376.6 472.4,374.3 467.7,369.6 464.6,363.7 460.6,359.0 455.9,354.3 454.3,348.4Z" fill="#7b0510"/>
<path d="M517.7,341.4 540.5,341.4 540.5,344.5 517.7,344.5Z" fill="#7b0510"/>
</g>
<g clip-path="url(#c13)">
<rect x="639.5" y="341.0" width="236.5" height="148.7" fill="#dc2806"/>
<path d="M633.3,377.1 638.0,377.1 647.4,377.8 656.8,377.8 666.2,377.1 673.2,375.5 682.6,373.8 692.0,372.4 701.4,370.8 710.8,369.1 720.2,368.4 729.6,368.4 736.7,370.1 742.6,373.1 748.4,376.2 755.5,377.8 762.5,378.5 769.6,380.2 776.6,382.5 783.7,384.9 790.7,385.6 796.6,383.7 800.1,379.0 801.3,373.1 804.8,369.6 810.7,367.2 817.7,368.4 824.8,371.5 831.8,375.5 838.9,380.2 845.9,384.2 853.0,386.0 860.0,383.7 864.7,379.0 868.3,374.3 870.6,367.2 869.4,362.5 868.7,355.5 870.6,348.4 873.0,339.0 882.4,339.0 882.4,510.6 633.3,510.6Z" fill="#e64600"/>
<path d="M633.3,396.6 638.0,396.6 645.0,397.8 652.1,398.3 661.5,397.3 668.5,395.0 675.6,391.9 682.6,389.6 689.7,388.4 696.7,387.9 703.8,387.2 710.8,387.9 717.9,390.3 724.9,391.9 732.0,392.6 739.0,391.9 746.1,391.2 753.1,390.7 760.2,391.2 767.2,393.6 774.3,395.9 781.3,397.8 788.4,399.0 795.4,398.3 802.5,395.9 809.5,392.6 816.6,391.2 823.6,392.6 830.7,395.4 837.7,397.8 844.8,399.0 851.8,399.0 858.9,398.3 863.6,395.4 867.1,391.9 870.6,387.2 873.0,383.7 874.8,381.3 882.4,380.2 882.4,510.6 633.3,510.6Z" fill="#f59100"/>
<path d="M633.3,413.1 638.0,413.1 645.0,413.8 652.1,413.1 659.1,410.7 666.2,408.4 673.2,405.3 680.3,403.0 687.3,402.5 693.2,404.8 696.7,409.5 700.3,413.1 705.0,414.7 710.8,413.1 717.9,410.0 724.9,406.7 732.0,403.7 739.0,400.1 746.1,398.3 752.0,397.8 756.7,400.1 762.5,403.7 769.6,406.0 776.6,407.7 783.7,408.4 790.7,409.1 797.8,408.4 804.8,406.7 811.9,406.0 818.9,407.7 823.6,410.7 827.1,413.8 833.0,415.4 840.1,416.1 847.1,416.1 854.2,415.4 860.0,413.1 863.6,409.5 867.1,406.7 870.6,404.8 874.8,402.5 882.4,401.3 882.4,510.6 633.3,510.6Z" fill="#d2d200"/>
<path d="M633.3,442.4 638.0,442.4 641.5,437.7 645.0,433.0 649.7,428.8 655.6,424.8 661.5,422.5 668.5,420.8 675.6,420.8 682.6,423.2 688.5,425.5 694.4,427.2 701.4,428.3 708.5,427.9 715.5,426.0 722.6,422.5 729.6,418.9 736.7,416.6 743.7,416.1 750.8,416.1 760.2,416.6 769.6,417.1 779.0,417.8 788.4,418.5 797.8,419.4 807.2,418.9 814.2,418.5 821.3,420.8 828.3,423.2 835.4,424.1 842.4,424.8 849.5,424.3 856.5,423.6 862.4,421.8 867.1,418.9 870.6,415.4 873.0,413.1 874.8,411.9 882.4,410.7 882.4,510.6 633.3,510.6Z" fill="#6ab05a"/>
<path d="M633.3,454.2 638.0,454.2 641.5,448.3 645.0,443.6 649.7,438.9 655.6,435.4 661.5,433.5 668.5,433.5 675.6,435.4 682.6,437.7 689.7,438.9 696.7,439.6 703.8,438.9 710.8,437.3 717.9,435.4 724.9,437.3 732.0,440.6 739.0,443.6 746.1,444.3 753.1,442.9 760.2,440.1 766.1,436.6 771.9,433.0 779.0,430.2 788.4,428.8 797.8,428.3 807.2,428.3 816.6,428.3 826.0,428.8 833.0,430.7 840.1,432.6 847.1,432.6 854.2,431.2 861.2,429.5 867.1,427.2 873.0,424.8 874.8,423.6 882.4,422.5 882.4,510.6 633.3,510.6Z" fill="#46b4aa"/>
<path d="M633.3,473.0 638.0,473.0 641.5,468.3 645.0,462.4 649.7,456.5 654.4,451.8 660.3,449.0 667.4,449.0 674.4,450.7 682.6,452.3 692.0,453.0 701.4,453.7 710.8,453.0 717.9,453.0 724.9,454.2 732.0,455.4 739.0,456.1 746.1,456.1 753.1,455.4 757.8,453.0 763.7,449.5 769.6,446.0 776.6,443.6 783.7,442.9 790.7,443.6 797.8,444.3 804.8,444.3 811.9,442.9 818.9,443.6 826.0,447.1 833.0,450.0 840.1,451.4 847.1,451.4 854.2,450.7 861.2,448.3 867.1,444.3 871.8,438.9 874.8,435.4 882.4,434.2 882.4,510.6 633.3,510.6Z" fill="#0096e6"/>
<path d="M640.3,510.6 640.3,491.8 641.5,487.1 643.9,482.4 647.4,476.5 652.1,470.6 656.8,466.4 662.7,464.8 670.9,464.8 679.1,465.5 687.3,466.4 696.7,467.8 706.1,468.3 715.5,468.3 724.9,468.7 734.3,468.7 743.7,468.7 753.1,467.8 757.8,465.5 763.7,461.2 769.6,457.7 776.6,455.4 783.7,454.2 793.1,454.2 802.5,454.7 811.9,455.4 821.3,456.5 828.3,458.9 835.4,460.8 842.4,461.2 849.5,460.8 856.5,459.3 862.4,456.5 867.1,453.0 871.8,448.3 874.8,444.8 882.4,443.6 882.4,510.6Z" fill="#0050a5"/>
<path d="M646.2,510.6 647.4,500.0 649.7,494.1 653.3,487.1 658.0,482.4 663.8,479.6 670.9,478.9 677.9,478.9 685.0,479.6 692.0,481.2 699.1,482.4 708.5,482.4 717.9,482.4 727.3,482.4 736.7,482.4 746.1,481.9 754.3,480.5 759.0,477.2 764.9,473.0 771.9,469.5 779.0,467.1 786.0,465.9 793.1,465.9 800.1,466.4 807.2,467.8 814.2,468.7 821.3,468.3 828.3,469.5 835.4,470.6 842.4,471.1 849.5,470.6 856.5,469.5 862.4,467.1 868.3,463.6 873.0,460.1 874.8,457.7 882.4,456.5 882.4,510.6Z" fill="#063c8c"/>
<path d="M755.5,510.6 756.7,500.0 760.2,494.1 764.9,488.2 769.6,483.6 775.5,479.6 781.3,476.5 787.2,474.9 793.1,475.3 800.1,477.2 807.2,478.1 814.2,478.1 821.3,477.2 828.3,476.5 835.4,475.3 842.4,474.2 849.5,473.0 856.5,471.8 863.6,470.2 869.4,467.8 874.8,464.8 882.4,463.6 882.4,510.6Z" fill="#1e2378"/>
<path d="M763.7,341.4 800.1,341.4 799.7,348.4 800.1,354.3 797.8,358.3 793.1,361.4 786.0,363.0 779.0,364.4 774.3,363.0 770.0,359.0 768.4,354.3 767.2,348.4Z" fill="#7b0510"/>
<path d="M827.1,341.4 864.7,341.4 862.4,348.4 860.7,354.3 860.0,358.3 856.5,362.1 851.8,363.7 847.1,362.5 841.2,361.4 835.4,359.0 830.7,356.7 828.3,353.1 827.8,348.4Z" fill="#7b0510"/>
</g>
<g clip-path="url(#c14)">
<rect x="95.0" y="487.7" width="157.0" height="119.8" fill="#e64600"/>
<path d="M125.8,483.6 123.3,493.7 121.6,502.1 121.1,510.5 121.3,518.9 122.4,527.3 124.6,535.7 127.5,544.1 130.8,551.7 135.0,559.2 140.1,566.0 145.1,571.0 149.3,574.0 152.7,574.7 156.9,573.5 161.1,570.2 164.4,566.0 167.8,560.1 171.2,551.7 173.7,543.3 175.7,534.0 177.0,524.8 177.5,515.6 177.0,505.5 176.2,497.1 175.0,490.4 174.0,483.6Z" fill="#f59100"/>
<path d="M232.5,483.6 229.1,492.0 224.9,498.8 221.5,505.5 218.7,512.2 216.5,518.9 214.8,525.6 212.6,532.4 211.6,539.1 211.6,547.5 212.3,554.2 214.3,559.2 215.3,571.0 216.0,581.1 217.0,589.5 218.7,597.9 220.7,606.6 220.7,614.7 272.8,614.7 272.8,483.6Z" fill="#f59100"/>
<path d="M249.3,508.0 245.1,509.7 240.0,513.9 235.8,518.9 231.6,525.6 228.3,533.2 226.1,540.8 225.4,548.3 226.1,555.9 227.4,564.3 229.1,572.7 231.1,581.1 233.3,589.5 235.5,597.9 237.5,606.6 237.5,614.7 245.9,614.7 245.9,606.6 247.6,599.5 249.6,591.1 251.8,581.1 253.5,574.4 256.0,567.6 262.7,562.6 262.7,513.9 256.0,509.7Z" fill="#d2d200"/>
<path d="M239.2,547.5 241.2,545.5 242.4,546.1 241.5,547.8 242.4,549.7 240.9,550.3Z" fill="#52b08e"/>
<path d="M96.1,581.9 99.1,581.9 99.1,588.6 96.1,588.6Z" fill="#0050a5"/>
</g>
<g clip-path="url(#c15)">
<rect x="250.0" y="487.7" width="119.2" height="119.8" fill="#d2d200"/>
<path d="M220.6,483.6 220.6,554.2 224.0,550.8 224.8,542.4 226.5,534.0 229.0,525.6 232.4,518.9 236.6,513.9 241.6,510.5 246.7,508.8 250.9,509.7 255.1,511.4 259.3,513.9 264.3,516.4 269.4,518.1 274.4,518.1 279.4,516.4 284.5,513.0 289.5,508.8 294.6,504.6 299.6,500.4 304.6,496.2 308.8,492.9 311.4,489.5 313.0,483.6Z" fill="#f59100"/>
<path d="M244.2,606.6 246.7,597.9 249.2,589.5 251.7,581.1 254.2,572.7 256.8,566.8 260.1,562.6 264.3,559.2 268.0,557.9 271.9,559.2 276.1,561.8 280.3,566.0 283.1,571.0 285.3,577.7 287.0,584.4 288.7,592.8 289.5,601.2 289.8,606.6 289.8,614.7 244.2,614.7Z" fill="#f59100"/>
<path d="M290.4,544.1 291.2,537.4 293.7,530.7 297.9,524.8 303.0,519.8 308.8,515.6 315.6,513.0 322.3,512.2 328.1,513.5 333.2,515.9 338.2,518.9 343.3,521.4 349.1,523.1 355.0,523.1 361.7,522.3 368.5,521.4 371.8,520.6 374.3,517.2 376.9,512.2 379.4,506.3 381.9,501.3 385.3,495.4 388.6,491.2 392.0,489.5 398.7,488.7 398.7,614.7 379.4,614.7 379.4,606.6 378.5,602.9 376.9,598.7 374.3,594.5 371.0,591.1 366.8,589.8 360.1,589.8 353.3,590.3 346.6,590.3 339.9,588.6 333.2,586.1 327.3,583.6 321.4,582.8 314.7,581.9 308.0,579.4 303.0,575.2 298.8,570.2 295.4,564.3 292.9,557.6 291.2,550.8Z" fill="#6ab05a"/>
<path d="M301.3,549.2 302.1,544.1 304.6,539.9 308.8,536.6 314.7,534.0 320.6,532.7 324.8,532.4 329.0,534.0 333.2,536.6 338.2,539.1 343.3,541.6 348.3,543.3 353.3,544.1 358.4,544.5 363.4,545.5 366.8,547.5 369.3,551.7 371.8,555.0 375.2,556.2 378.5,554.2 381.9,551.7 385.3,549.5 390.3,548.3 398.7,547.8 398.7,587.8 395.3,586.1 392.0,581.1 389.5,576.0 386.9,571.0 384.4,566.8 381.1,564.3 376.0,563.4 371.0,563.9 366.8,564.6 362.6,566.0 357.5,567.6 351.7,569.0 344.9,569.6 338.2,569.3 331.5,568.0 324.8,566.3 319.8,564.6 314.7,562.9 309.7,560.9 305.5,557.6 302.6,553.4Z" fill="#46b4aa"/>
</g>
<g clip-path="url(#c16)">
<rect x="367.2" y="487.7" width="119.3" height="119.8" fill="#6ab05a"/>
<path d="M337.6,483.6 337.6,520.6 341.0,521.4 346.0,522.6 351.1,523.1 357.8,522.6 364.5,522.3 370.4,521.4 373.8,518.9 376.3,513.9 378.3,508.0 380.5,502.1 383.0,496.2 385.5,491.2 387.2,488.7 388.0,483.6Z" fill="#d2d200"/>
<path d="M430.0,489.5 435.1,492.9 440.1,495.1 446.8,496.2 452.7,495.4 457.7,493.4 461.9,491.2 465.3,489.5 466.1,483.6 429.2,483.6Z" fill="#d2d200"/>
<path d="M337.6,587.8 341.0,588.6 347.7,590.3 354.4,590.8 361.2,590.3 367.9,589.8 371.2,591.1 373.8,594.5 376.3,598.7 378.0,602.9 378.8,606.6 378.8,614.7 337.6,614.7Z" fill="#d2d200"/>
<path d="M337.6,541.6 341.0,541.6 346.0,543.3 351.1,545.0 357.8,545.0 362.8,545.8 367.0,548.3 370.4,552.5 372.9,555.5 376.3,555.0 380.5,551.7 384.7,548.3 389.7,547.1 396.4,546.6 401.5,545.5 405.7,542.4 407.9,537.4 409.0,531.5 409.9,524.8 410.7,518.1 412.4,513.9 416.6,512.2 421.6,512.2 426.7,512.7 431.7,513.9 435.9,516.4 440.1,518.9 445.1,520.6 450.2,520.6 455.2,519.3 460.3,518.1 467.0,517.2 473.7,515.9 478.7,513.9 482.9,510.5 485.5,507.2 488.0,503.0 490.5,498.8 493.9,495.4 498.1,492.0 502.3,490.0 507.3,489.0 515.7,488.7 515.7,614.7 467.0,614.7 467.0,606.6 466.1,605.4 463.6,602.9 459.4,600.4 454.4,599.5 449.3,601.2 445.1,603.7 442.6,606.6 441.8,614.7 402.8,614.7 402.8,606.6 401.8,603.7 400.1,599.5 398.1,595.3 395.6,591.1 392.7,586.1 390.1,581.1 387.2,576.0 384.7,571.0 382.2,566.8 378.8,563.9 374.6,562.9 370.4,562.9 366.2,563.9 361.2,566.0 356.1,567.3 351.1,568.5 346.0,569.0 341.0,569.3 337.6,569.3Z" fill="#46b4aa"/>
<path d="M409.5,560.9 411.6,557.6 415.8,555.0 421.6,554.2 428.4,554.2 434.2,555.0 438.4,556.7 442.6,558.4 448.5,559.2 455.2,558.9 461.1,557.6 466.1,555.0 469.5,551.7 471.7,547.5 473.7,542.4 476.2,537.4 479.6,533.7 483.8,531.0 487.1,529.0 491.3,526.5 495.5,523.1 498.9,518.9 501.4,513.9 503.9,508.8 507.3,504.6 510.7,501.3 515.7,498.8 515.7,614.7 498.9,614.7 498.9,606.6 494.7,605.4 490.5,602.9 487.1,598.7 483.8,594.5 479.6,589.8 474.5,586.1 468.7,583.1 461.9,581.4 455.2,580.7 448.5,581.4 441.8,582.8 435.1,585.3 430.0,587.5 425.0,588.6 418.3,588.6 413.2,587.8 409.9,585.3 406.8,581.1 404.8,576.0 404.5,571.0 405.7,566.0 407.4,562.6Z" fill="#0096e6"/>
<path d="M418.3,575.7 420.8,574.4 423.3,575.2 425.8,574.0 428.4,575.2 427.5,576.9 424.2,577.4 422.5,578.6 420.0,577.7Z" fill="#0050a5"/>
<path d="M483.4,575.2 486.3,578.6 490.5,580.2 495.5,581.9 500.6,584.4 505.6,587.8 509.8,592.0 515.7,597.9 515.7,534.9 509.0,539.1 503.9,542.4 498.9,545.8 494.7,549.2 493.9,554.2 493.0,560.9 487.1,564.3 483.8,571.0Z" fill="#0050a5"/>
</g>
<g clip-path="url(#c17)">
<rect x="484.5" y="487.7" width="157.0" height="119.8" fill="#0096e6"/>
<path d="M523.2,483.6 519.0,493.7 514.8,497.9 510.6,501.3 507.2,505.5 504.7,510.5 502.2,516.4 499.7,521.4 496.3,524.8 492.1,527.0 487.1,529.0 482.9,531.0 479.5,533.2 473.6,536.6 473.6,483.6Z" fill="#46b4aa"/>
<path d="M503.0,483.6 502.2,491.2 498.8,493.7 494.6,496.2 490.4,498.8 487.1,501.3 484.6,505.5 482.0,509.7 478.7,512.2 473.6,513.9 473.6,483.6Z" fill="#6ab05a"/>
<path d="M473.6,586.1 477.0,586.9 481.2,589.5 485.4,593.7 488.8,597.9 492.1,602.1 495.5,605.4 497.2,606.6 497.2,614.7 473.6,614.7Z" fill="#46b4aa"/>
<path d="M493.8,560.9 493.5,554.2 494.6,548.3 498.8,545.0 503.9,541.6 508.9,538.2 513.1,534.9 516.5,531.0 517.3,526.5 516.0,521.4 517.3,518.1 521.5,515.6 526.6,513.0 531.6,509.7 535.8,506.3 540.0,502.1 543.4,499.1 546.7,497.1 550.9,497.9 554.3,501.3 557.3,505.5 560.2,508.8 564.4,511.4 569.4,513.0 575.3,513.5 581.1,512.5 587.9,512.2 593.7,513.0 597.1,515.6 599.6,518.1 603.0,519.8 607.2,521.4 613.1,521.9 619.8,521.9 626.5,522.3 629.9,519.8 633.2,515.6 636.6,510.5 639.1,505.5 640.8,500.4 642.5,494.6 644.1,490.4 645.0,483.6 651.7,483.6 651.7,604.6 645.0,604.3 638.3,603.7 631.5,602.9 624.8,601.2 618.1,599.9 611.4,599.2 604.7,599.9 597.9,602.1 592.9,603.2 586.2,602.9 579.5,601.2 572.8,599.2 566.0,597.9 559.3,597.0 554.3,597.0 549.2,597.9 544.2,597.0 540.0,597.9 535.8,599.2 530.8,600.9 525.7,601.6 520.7,600.9 516.5,598.7 513.1,595.3 509.8,591.1 505.6,587.8 500.5,584.4 495.5,581.9 490.4,580.2 486.2,578.6 483.7,575.2 484.6,571.0 487.1,566.8 490.4,563.9Z" fill="#0050a5"/>
<path d="M515.6,550.8 518.2,547.5 522.4,545.0 527.4,543.3 532.4,540.8 536.6,538.2 540.0,534.9 543.4,531.0 546.7,528.7 550.9,527.7 556.0,528.2 561.0,529.8 566.0,532.0 571.1,534.0 577.8,535.7 584.5,536.6 591.2,536.6 597.9,536.6 602.1,537.4 605.5,540.8 608.0,545.0 611.4,548.3 615.6,550.8 621.5,552.5 628.2,553.4 634.9,553.4 640.8,551.7 651.7,550.8 651.7,596.2 645.0,594.5 638.3,593.2 631.5,593.2 624.8,593.7 618.1,594.5 611.4,595.3 604.7,595.9 597.9,595.9 591.2,595.3 584.5,594.5 579.5,592.5 575.3,589.8 571.9,586.9 570.2,583.6 571.9,580.7 576.1,578.6 581.1,577.4 587.0,576.0 584.5,574.7 577.8,575.2 571.1,576.0 564.4,577.4 557.6,578.6 552.6,578.6 547.6,576.9 543.4,574.4 540.0,571.0 536.6,568.0 532.4,565.6 528.2,564.3 527.4,560.9 522.4,559.2 518.2,555.9Z" fill="#063c8c"/>
<path d="M625.7,576.9 629.9,573.5 634.9,570.2 639.9,567.3 645.0,563.4 651.7,557.6 651.7,597.9 645.0,592.8 639.9,588.6 634.9,584.4 629.9,580.7Z" fill="#1e2378"/>
</g>
<g clip-path="url(#c18)">
<rect x="639.5" y="487.7" width="119.2" height="119.8" fill="#1e2378"/>
<path d="M637.3,482.2 766.2,482.2 766.2,485.7 759.2,489.2 754.5,492.7 747.5,494.4 738.1,495.8 728.7,496.2 719.4,497.4 710.0,499.1 700.6,500.5 691.2,498.6 684.2,496.2 677.2,493.9 670.1,495.1 664.3,497.4 659.6,503.3 656.1,510.3 654.2,519.7 654.9,529.1 657.3,538.4 659.6,544.3 654.9,550.1 649.1,554.8 644.4,559.5 642.0,564.2 635.0,570.1 625.6,575.9 632.7,583.0 640.9,590.0 647.9,595.8 653.7,600.5 657.3,604.0 658.4,611.1 637.3,611.1Z" fill="#063c8c"/>
<path d="M637.3,482.2 670.1,482.2 663.1,483.4 658.4,485.7 653.7,492.7 651.4,500.9 650.2,510.3 650.2,522.0 650.9,533.7 651.9,543.1 649.1,550.1 645.5,556.0 642.0,560.0 637.3,561.9Z" fill="#0050a5"/>
<path d="M637.3,593.5 640.9,594.7 646.7,599.4 651.9,604.0 654.9,611.1 637.3,611.1Z" fill="#0050a5"/>
</g>
<g clip-path="url(#c19)">
<rect x="756.7" y="487.7" width="119.3" height="119.8" fill="#1e2378"/>
</g>
</g>
<g stroke="#767676" stroke-width="2" fill="none">
<line x1="164.8" y1="77.4" x2="164.8" y2="610.8000000000001"/>
<line x1="213.4" y1="77.4" x2="213.4" y2="610.8000000000001"/>
<line x1="251.1" y1="77.4" x2="251.1" y2="610.8000000000001"/>
<line x1="282.0" y1="77.4" x2="282.0" y2="610.8000000000001"/>
<line x1="308.0" y1="77.4" x2="308.0" y2="610.8000000000001"/>
<line x1="330.6" y1="77.4" x2="330.6" y2="610.8000000000001"/>
<line x1="350.5" y1="77.4" x2="350.5" y2="610.8000000000001"/>
<line x1="368.3" y1="77.4" x2="368.3" y2="615.2"/>
<line x1="485.5" y1="77.4" x2="485.5" y2="610.8000000000001"/>
<line x1="554.1" y1="77.4" x2="554.1" y2="610.8000000000001"/>
<line x1="602.8" y1="77.4" x2="602.8" y2="610.8000000000001"/>
<line x1="640.5" y1="77.4" x2="640.5" y2="610.8000000000001"/>
<line x1="671.3" y1="77.4" x2="671.3" y2="610.8000000000001"/>
<line x1="697.4" y1="77.4" x2="697.4" y2="610.8000000000001"/>
<line x1="720.0" y1="77.4" x2="720.0" y2="610.8000000000001"/>
<line x1="739.9" y1="77.4" x2="739.9" y2="610.8000000000001"/>
<line x1="757.7" y1="77.4" x2="757.7" y2="615.2"/>
<line x1="89.2" y1="122.0" x2="874.9" y2="122.0"/>
<line x1="89.2" y1="195.5" x2="874.9" y2="195.5"/>
<line x1="89.2" y1="268.9" x2="874.9" y2="268.9"/>
<line x1="89.2" y1="342.1" x2="874.9" y2="342.1"/>
<line x1="89.2" y1="415.6" x2="874.9" y2="415.6"/>
<line x1="89.2" y1="489.1" x2="874.9" y2="489.1"/>
<line x1="89.2" y1="562.2" x2="874.9" y2="562.2"/>
<line x1="96.2" y1="606.6" x2="96.2" y2="610.8000000000001"/>
<line x1="874.9" y1="606.6" x2="874.9" y2="610.8000000000001"/>
<path d="M96.2,607.3000000000001 V77.4 H875.6" stroke-width="2"/>
<path d="M95.2,606.6 H875.0 V76.4" stroke-width="1.4"/>
</g>
<rect x="904.2" y="76.90" width="24.799999999999955" height="54.40" fill="#7b0510"/>
<rect x="904.2" y="130.80" width="24.799999999999955" height="53.50" fill="#dc2806"/>
<rect x="904.2" y="183.80" width="24.799999999999955" height="53.60" fill="#e64600"/>
<rect x="904.2" y="236.90" width="24.799999999999955" height="53.50" fill="#f59100"/>
<rect x="904.2" y="289.90" width="24.799999999999955" height="53.50" fill="#d2d200"/>
<rect x="904.2" y="342.90" width="24.799999999999955" height="52.90" fill="#6ab05a"/>
<rect x="904.2" y="395.30" width="24.799999999999955" height="52.80" fill="#46b4aa"/>
<rect x="904.2" y="447.60" width="24.799999999999955" height="52.90" fill="#0096e6"/>
<rect x="904.2" y="500.00" width="24.799999999999955" height="53.70" fill="#0050a5"/>
<rect x="904.2" y="553.20" width="24.799999999999955" height="53.30" fill="#063c8c"/>
<path d="M929.3,76.9 V606.6" fill="none" stroke="#6e6e6e" stroke-width="1.7"/>
<path d="M904.2,76.9 H929.0 M904.2,606.6 H929.0 M904.2,76.9 V606.6" fill="none" stroke="#8a8a8a" stroke-width="0.8" opacity="0.6"/>
</svg>
<svg width="1024" height="715" viewBox="0 0 1024 715" style="position:absolute;left:0;top:0"><g font-family="Liberation Sans, sans-serif" fill="#14142c" stroke="#14142c" stroke-width="0.35" xml:space="preserve"><text transform="translate(485.0,49.6) scale(1.0,1.07)" font-size="22.05" text-anchor="middle">Directivity pattern</text><text transform="translate(48.0,59.5) scale(1.0,1.07)" font-size="21.0" text-anchor="start">deg</text><text transform="translate(83.3,130.3) scale(1.0,1.07)" font-size="21.0" text-anchor="end">-150.0</text><text transform="translate(83.3,203.8) scale(1.0,1.07)" font-size="21.0" text-anchor="end">-100.0</text><text transform="translate(83.3,277.2) scale(1.0,1.07)" font-size="21.0" text-anchor="end">-50.0</text><text transform="translate(83.3,350.4) scale(1.0,1.07)" font-size="21.0" text-anchor="end">0.0</text><text transform="translate(83.3,423.9) scale(1.0,1.07)" font-size="21.0" text-anchor="end">50.0</text><text transform="translate(83.3,497.4) scale(1.0,1.07)" font-size="21.0" text-anchor="end">100.0</text><text transform="translate(83.3,570.5) scale(1.0,1.07)" font-size="21.0" text-anchor="end">150.0</text><text transform="translate(97.0,638.7) scale(1.0,1.07)" font-size="21.0" text-anchor="middle">200</text><text transform="translate(251.6,638.7) scale(1.0,1.07)" font-size="21.0" text-anchor="middle">500</text><text transform="translate(368.5,638.7) scale(1.0,1.07)" font-size="21.0" text-anchor="middle">1k</text><text transform="translate(485.7,638.7) scale(1.0,1.07)" font-size="21.0" text-anchor="middle">2k</text><text transform="translate(641.0,638.7) scale(1.0,1.07)" font-size="21.0" text-anchor="middle">5k</text><text transform="translate(756.8,638.7) scale(1.0,1.07)" font-size="21.0" text-anchor="middle">10k</text><text transform="translate(874.0,638.7) scale(1.0,1.07)" font-size="21.0" text-anchor="middle">20k</text><text transform="translate(874.6,663.5) scale(1.0,1.07)" font-size="20.65" text-anchor="end">Frequency (Hz)</text><text transform="translate(95.6,702.7) scale(1.0,1.07)" font-size="20.35" text-anchor="start">PAB-308/SW../WS  <tspan dx="-1.6">Directivity horizontal</tspan></text><text transform="translate(943.0,84.5) scale(1.0,1.07)" font-size="21.0" text-anchor="start">dB</text><text transform="translate(947.0,137.7) scale(1.0,1.07)" font-size="20.4" text-anchor="start">0.0</text><text transform="translate(941.5,190.7) scale(1.0,1.07)" font-size="20.4" text-anchor="start">-3.0</text><text transform="translate(941.5,243.8) scale(1.0,1.07)" font-size="20.4" text-anchor="start">-6.0</text><text transform="translate(941.5,296.8) scale(1.0,1.07)" font-size="20.4" text-anchor="start">-9.0</text><text transform="translate(941.5,349.8) scale(1.0,1.07)" font-size="20.4" text-anchor="start">-12.0</text><text transform="translate(941.5,402.2) scale(1.0,1.07)" font-size="20.4" text-anchor="start">-15.0</text><text transform="translate(941.5,454.5) scale(1.0,1.07)" font-size="20.4" text-anchor="start">-18.0</text><text transform="translate(941.5,506.9) scale(1.0,1.07)" font-size="20.4" text-anchor="start">-21.0</text><text transform="translate(941.5,560.1) scale(1.0,1.07)" font-size="20.4" text-anchor="start">-24.0</text><text transform="translate(941.5,613.4) scale(1.0,1.07)" font-size="20.4" text-anchor="start">-27.0</text><text transform="translate(888.5,98.7) scale(1.0,1.02)" font-size="23" text-anchor="middle">A</text><text transform="translate(888.5,122.5) scale(1.0,1.02)" font-size="23" text-anchor="middle">R</text><text transform="translate(888.5,146.3) scale(1.0,1.02)" font-size="23" text-anchor="middle">T</text><text transform="translate(888.5,170.1) scale(1.0,1.02)" font-size="23" text-anchor="middle">A</text></g></svg>
</body></html>
